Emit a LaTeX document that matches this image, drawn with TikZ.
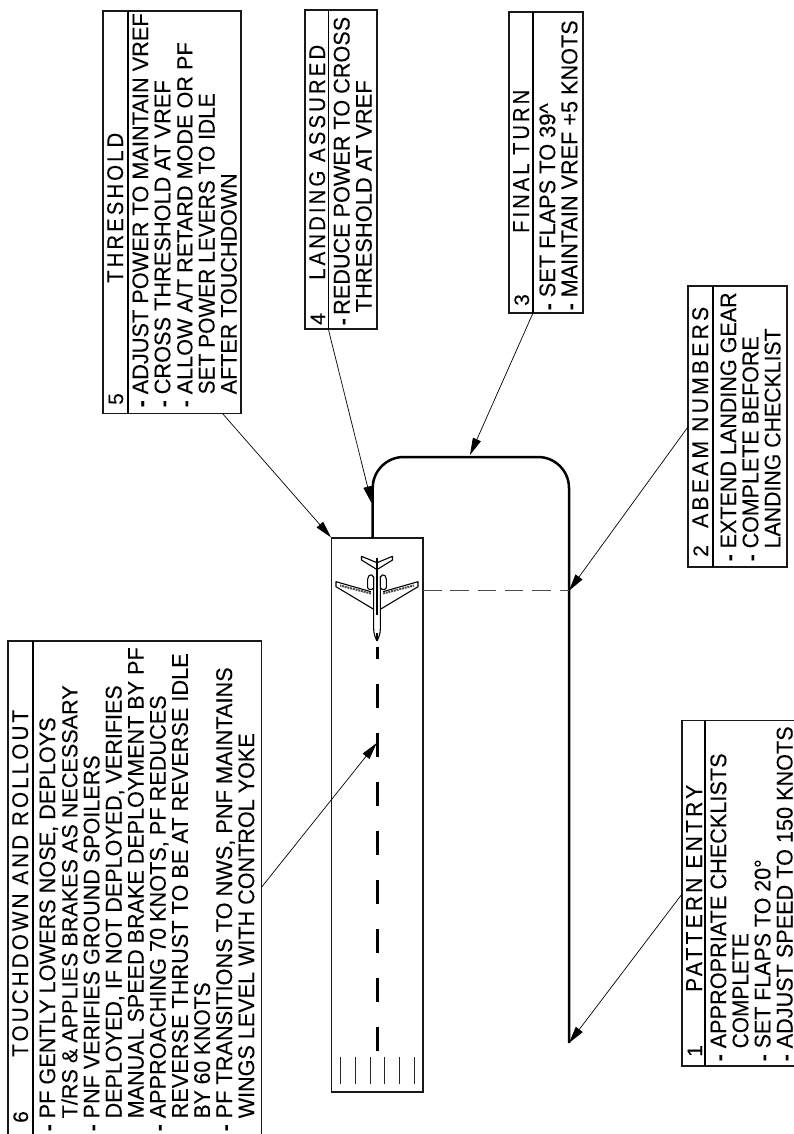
\documentclass[tikz,border=0pt]{standalone}
\usepackage{fontspec}
\usepackage{graphicx}
\setmainfont[FakeBold=0.12]{Liberation Sans}
\newfontfamily\spacedfont[LetterSpace=15,FakeBold=0.12]{Liberation Sans}
\usetikzlibrary{arrows.meta}
\newlength{\dashgap}
\setlength{\dashgap}{13pt}
\newcommand{\fitline}[2]{\resizebox{#1pt}{15.8pt}{#2}}
\newcommand{\dl}[2]{\makebox[\dashgap][l]{\textbf{-}}\fitline{#1}{#2}}
\newcommand{\hl}[2]{\hspace*{\dashgap}\fitline{#1}{#2}}
\newcommand{\fittitle}[2]{\resizebox{#1pt}{15.8pt}{\spacedfont #2}}
\tikzset{
  frame/.style={draw=black!90,line width=1.2pt,inner sep=0pt,rectangle},
  divider/.style={draw=black,line width=1.1pt},
  notes/.style={rotate=90,anchor=north west,inner sep=0pt,align=left,font=\fontsize{21}{22.1}\selectfont},
  heading/.style={rotate=90,anchor=base west,inner sep=0pt,font=\fontsize{21}{22}\selectfont},
  num/.style={rotate=90,anchor=base west,inner sep=0pt,font=\fontsize{21}{22}\selectfont},
  pointer/.style={draw=black,line width=.7pt,-{Triangle[length=17pt,width=8.5pt]},shorten >=0pt},
  pattern/.style={draw=black,line width=2.5pt},
  planeline/.style={draw=black,line width=1.1pt,line join=round}
}
\begin{document}
\begin{tikzpicture}[x=1pt,y=-1pt]
\clip (0,0) rectangle (794,1134);
\fill[white] (0,0) rectangle (794,1134);

% runway
\node[frame,minimum width=91.3pt,minimum height=554pt] (runway) at (377.3,815) {};
\foreach \xx in {340,355,370,384.3,399.3,414.3}
  \draw[line width=.9pt,black!85] (\xx,1057) -- (\xx,1084);
\draw[line width=2.6pt,dash pattern=on 24pt off 25pt] (377.3,1051) -- (377.3,647);

% traffic pattern
\coordinate (patstart) at (372.7,538);
\coordinate (patend) at (569,1043);
\draw[pattern,rounded corners=31pt] (patstart) -- (372.7,457) -- (569,457) -- (patend);
\coordinate (abeam) at (569,590.7);
\draw[draw=black!70,line width=1.3pt,dash pattern=on 18.5pt off 8.8pt] (423,590.7) -- (abeam);

% aeroplane
\begin{scope}[shift={(377,0)}]
\foreach \sd in {1,-1}{
 \begin{scope}[xscale=\sd]
  % stabiliser
  \draw[planeline] (0,562.7) -- (15.5,556.3) -- (15.5,560) -- (0.5,569.3);
  % wing
  \draw[planeline] (3.3,609.3) -- (41,586.7) -- (41,581.7) -- (6,591.7);
  \draw[black!70,line width=2pt,dash pattern=on 2pt off .8pt] (6,593.5) -- (37,585.5);
  % engine
  \draw[planeline,fill=white,rounded corners=1.5pt] (3.4,576) -- (7,574.3) -- (9.4,578) -- (9.4,589.3) -- (3.4,589.3) -- cycle;
  % fuselage
  \draw[planeline] (3.4,576) -- (3.4,628) .. controls (3.4,634) and (1.5,638) .. (0,641);
 \end{scope}
}
\draw[line width=1.4pt] (0,558) -- (0,615);
\draw[line width=2.6pt] (0,568) -- (0,576);
\draw[line width=1.2pt] (0,633) -- (0,641);
\end{scope}

% box 6
\node[frame,minimum width=253.7pt,minimum height=520pt] (box6) at (134.85,901) {};
\draw[divider] (33,641) -- (33,1134);
\node[heading] (t6) at (28,1057) {\fittitle{347}{TOUCHDOWN AND ROLLOUT}};
\node[num] (n6) at (28,1123) {6};
\node[notes] (x6) at (39.2,1131.5) {\dl{401}{PF GENTLY LOWERS NOSE, DEPLOYS}\\\hl{433}{T/RS \& APPLIES BRAKES AS NECESSARY}\\\dl{363}{PNF VERIFIES GROUND SPOILERS}\\\hl{433}{DEPLOYED, IF NOT DEPLOYED, VERIFIES}\\\hl{471}{MANUAL SPEED BRAKE DEPLOYMENT BY PF}\\\dl{423}{APPROACHING 70 KNOTS, PF REDUCES}\\\hl{465}{REVERSE THRUST TO BE AT REVERSE IDLE}\\\hl{136}{BY 60 KNOTS}\\\dl{451}{PF TRANSITIONS TO NWS, PNF MAINTAINS}\\\hl{385}{WINGS LEVEL WITH CONTROL YOKE}};

% box 5
\node[frame,minimum width=138pt,minimum height=402.3pt] (box5) at (172,212.15) {};
\draw[divider] (128,11) -- (128,413.3);
\node[heading] (t5) at (123,283) {\fittitle{150}{THRESHOLD}};
\node[num] (n5) at (123,405) {5};
\node[notes] (x5) at (132.2,407.5) {\dl{381}{ADJUST POWER TO MAINTAIN VREF}\\\dl{314}{CROSS THRESHOLD AT VREF}\\\dl{352}{ALLOW A/T RETARD MODE OR PF}\\\hl{301}{SET POWER LEVERS TO IDLE}\\\hl{221}{AFTER TOUCHDOWN}};

% box 4
\node[frame,minimum width=72pt,minimum height=319pt] (box4) at (341,169.5) {};
\draw[divider] (328.3,10) -- (328.3,329) coordinate (b4out);
\node[heading] (t4) at (325,280) {\fittitle{235}{LANDING ASSURED}};
\node[num] (n4) at (325,325) {4};
\node[notes] (x4) at (333.5,325.5) {\setlength{\dashgap}{10.5pt}\dl{298}{REDUCE POWER TO CROSS}\\\hl{232}{THRESHOLD AT VREF}};

% box 3
\node[frame,minimum width=74pt,minimum height=301pt] (box3) at (546,162.5) {};
\draw[divider] (533,12) -- (533,313) coordinate (b3out);
\node[heading] (t3) at (529,233) {\fittitle{143}{FINAL TURN}};
\node[num] (n3) at (529,306) {3};
\node[notes] (x3) at (539.2,310.5) {\dl{194}{SET FLAPS TO 39\char94}\\\dl{277}{MAINTAIN VREF +5 KNOTS}};

% box 2
\node[frame,minimum width=99pt,minimum height=281pt] (box2) at (737.5,426.5) {};
\draw[divider] (713,286) -- (713,567);
\node[heading] (t2) at (708,528) {\fittitle{221}{ABEAM NUMBERS}};
\node[num] (n2) at (708,557) {2};
\node[notes] (x2) at (720.2,561.5) {\dl{256}{EXTEND LANDING GEAR}\\\dl{212}{COMPLETE BEFORE}\\\hl{220}{LANDING CHECKLIST}};

% box 1
\node[frame,minimum width=130pt,minimum height=345.3pt] (box1) at (747,893.35) {};
\draw[divider] (705,720.7) -- (705,1066);
\node[heading] (t1) at (702,992) {\fittitle{207}{PATTERN ENTRY}};
\node[num] (n1) at (702,1057) {1};
\node[notes] (x1) at (710.2,1061.5) {\dl{295}{APPROPRIATE CHECKLISTS}\\\hl{115}{COMPLETE}\\\dl{189}{SET FLAPS TO 20°}\\\dl{322}{ADJUST SPEED TO 150 KNOTS}};

% connectors
\coordinate (b6out) at (261.7,887);
\coordinate (touch) at (376.7,743);
\coordinate (b5out) at (222.3,413.3);
\coordinate (cross) at (371.7,503.3);
\coordinate (finalpt) at (470,455);
\coordinate (b2out) at (687.7,427.3);
\coordinate (b1out) at (682,894);
\draw[pointer] (b6out) -- (touch);
\draw[pointer] (b5out) -- (runway.north west);
\draw[pointer] (b4out) -- (cross);
\draw[pointer] (b3out) -- (finalpt);
\draw[pointer] (b2out) -- (abeam);
\draw[pointer] (b1out) -- (patend);
\end{tikzpicture}
\end{document}
